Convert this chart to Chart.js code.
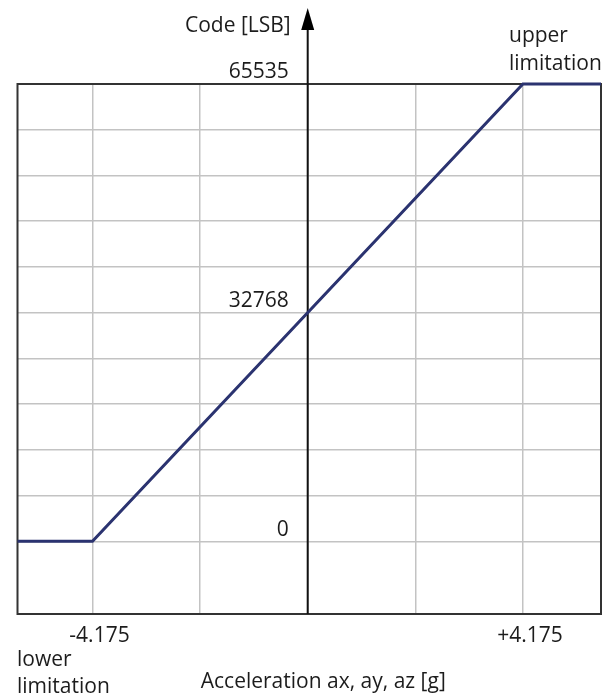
<!DOCTYPE html>
<html>
<head>
<meta charset="utf-8">
<script src="https://cdn.jsdelivr.net/npm/chart.js@4/dist/chart.umd.min.js"></script>
<style>
  html, body { margin: 0; padding: 0; background: #fff; }
  #wrap { width: 612px; height: 695px; }
</style>
</head>
<body>
<div id="wrap"><canvas id="c" width="612" height="695"></canvas></div>
<script>
// Transfer characteristic: acceleration [g] -> output code [LSB]
const accel = [-5.63, -4.175, 4.175, 5.69];
const code = [0, 0, 65535, 65535];

// Grid positions and the labels printed on them
const xGridValues = [-4.175, -2.0875, 0, 2.0875, 4.175];
const xTickLabels = ['-4.175', '', '', '', '+4.175'];
const yGridValues = [0, 6553.5, 13107, 19660.5, 26214, 32767.5, 39321, 45874.5, 52428, 58981.5, 65535];
const yTickValues = [0, 32768, 65535];
const yTickLabels = ['0', '32768', '65535'];

const xRange = [-5.63, 5.69];
const yRange = [-10420, 65535];

const FONT = '"Open Sans", "Noto Sans", sans-serif';
const INK = '#1c1c1c';
const FRAME = '#333333';
const GRID = '#c3c3c3';
const LINE = '#2b3370';

const annotations = {
  id: 'annotations',
  beforeDatasetsDraw(chart) {
    const { ctx, chartArea: a, scales: { x } } = chart;
    ctx.save();
    // frame
    ctx.strokeStyle = FRAME;
    ctx.lineWidth = 2;
    ctx.strokeRect(a.left, a.top, a.right - a.left, a.bottom - a.top);
    // vertical axis with arrow
    const x0 = x.getPixelForValue(0);
    ctx.strokeStyle = '#111';
    ctx.lineWidth = 2;
    ctx.beginPath();
    ctx.moveTo(x0, a.bottom);
    ctx.lineTo(x0, 26);
    ctx.stroke();
    ctx.fillStyle = '#000';
    ctx.beginPath();
    ctx.moveTo(x0, 8);
    ctx.lineTo(x0 - 6.5, 30);
    ctx.lineTo(x0 + 6.5, 30);
    ctx.closePath();
    ctx.fill();
    ctx.restore();
  },
  afterDraw(chart) {
    const { ctx, chartArea: a, scales: { x, y } } = chart;
    const x0 = x.getPixelForValue(0);
    ctx.save();
    ctx.fillStyle = INK;
    ctx.font = '21px ' + FONT;
    ctx.textBaseline = 'middle';

    // y labels, left of the axis, sitting above their line
    ctx.textAlign = 'right';
    yTickValues.forEach((v, i) => {
      ctx.fillText(yTickLabels[i], x0 - 19, y.getPixelForValue(v) - 11.5);
    });
    ctx.fillText('Code [LSB]', x0 - 17, 26);

    // x labels below the frame
    ctx.textAlign = 'center';
    xGridValues.forEach((v, i) => {
      if (xTickLabels[i]) ctx.fillText(xTickLabels[i], x.getPixelForValue(v) + 7, a.bottom + 22);
    });
    ctx.fillText('Acceleration ax, ay, az [g]', (a.left + a.right) / 2 + 14, 682);

    ctx.textAlign = 'left';
    ctx.fillText('upper', 509, 36);
    ctx.fillText('limitation', 509, 64);
    ctx.fillText('lower', 17, 660);
    ctx.fillText('limitation', 17, 687);
    ctx.restore();
  }
};

new Chart(document.getElementById('c'), {
  type: 'scatter',
  data: {
    datasets: [{
      data: accel.map((v, i) => ({ x: v, y: code[i] })),
      showLine: true,
      borderColor: LINE,
      borderWidth: 3,
      pointRadius: 0,
      fill: false,
      tension: 0,
      clip: 6
    }]
  },
  options: {
    responsive: false,
    animation: false,
    devicePixelRatio: 1,
    layout: { padding: { left: 17.5, right: 11, top: 84, bottom: 81 } },
    plugins: { legend: { display: false }, tooltip: { enabled: false } },
    scales: {
      x: {
        type: 'linear',
        min: xRange[0], max: xRange[1],
        afterBuildTicks: s => { s.ticks = xGridValues.map(v => ({ value: v })); },
        ticks: { display: false },
        border: { display: false },
        grid: { color: GRID, lineWidth: 1.5, drawTicks: false }
      },
      y: {
        type: 'linear',
        min: yRange[0], max: yRange[1],
        afterBuildTicks: s => { s.ticks = yGridValues.map(v => ({ value: v })); },
        ticks: { display: false },
        border: { display: false },
        grid: { color: GRID, lineWidth: 1.5, drawTicks: false }
      }
    }
  },
  plugins: [annotations]
});
</script>
</body>
</html>
